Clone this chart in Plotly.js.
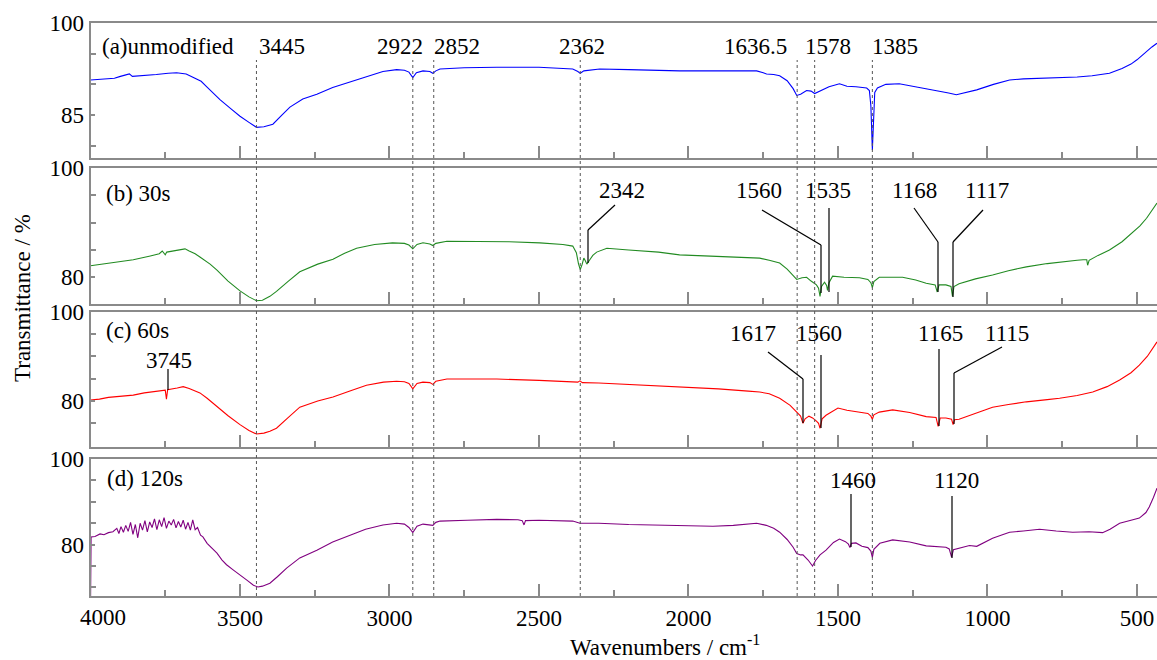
<!DOCTYPE html>
<html>
<head>
<meta charset="utf-8">
<script src="https://cdn.plot.ly/plotly-3.0.1.min.js"></script>
<style>
html,body{margin:0;padding:0;background:#fff;font-family:'Liberation Serif';}
#chart{width:1157px;height:660px;}
</style>
</head>
<body>
<div id="chart"></div>
<script>
// ---- data: [wavenumber (cm-1), transmittance (%)] ----
const specA = [
[4000,90.7],[3960,90.9],[3920,91.0],[3900,91.3],[3870,91.7],[3860,91.3],[3820,91.4],[3780,91.6],
[3740,91.8],[3712,91.9],[3680,91.7],[3657,91.2],[3630,90.5],[3611,89.6],[3590,88.6],[3567,87.5],
[3530,86.0],[3500,84.8],[3470,83.8],[3445,83.0],[3420,83.1],[3390,83.5],[3360,85.0],[3333,86.3],
[3290,87.6],[3243,88.4],[3190,89.5],[3133,90.4],[3080,91.3],[3022,92.1],[2976,92.4],[2950,92.3],
[2935,92.0],[2922,91.1],[2910,91.9],[2888,92.2],[2865,92.1],[2855,91.8],[2845,92.2],[2831,92.5],
[2750,92.7],[2641,92.8],[2500,92.8],[2420,92.6],[2387,92.5],[2370,92.1],[2362,91.8],[2350,92.2],
[2297,92.5],[2200,92.4],[2100,92.3],[2030,92.2],[1900,92.2],[1800,92.2],[1772,92.2],[1750,91.9],
[1739,91.7],[1715,91.6],[1695,91.4],[1670,90.6],[1650,89.3],[1638,88.2],[1625,88.4],[1605,89.0],
[1590,88.9],[1578,88.5],[1560,88.9],[1530,89.6],[1495,90.1],[1470,89.7],[1440,89.6],[1404,89.4],
[1395,89.0],[1390,86.5],[1385,79.3],[1381,85.5],[1377,88.7],[1368,89.4],[1340,90.0],[1295,90.1],
[1260,89.8],[1227,89.5],[1180,89.0],[1130,88.6],[1104,88.3],[1080,88.6],[1036,89.1],[980,90.0],
[926,90.7],[880,90.9],[820,91.0],[759,91.0],[700,91.2],[650,91.4],[592,91.8],[550,92.6],
[520,93.3],[500,94.0],[470,95.3],[450,96.1],[433,96.7]];

const specB = [
[4000,82.1],[3950,82.5],[3900,82.8],[3857,83.2],[3800,83.9],[3770,84.3],[3760,84.8],[3750,84.1],
[3745,84.6],[3710,84.9],[3684,85.2],[3670,84.8],[3650,84.3],[3634,83.7],[3600,82.4],[3577,81.3],
[3540,79.3],[3500,77.5],[3470,76.4],[3445,75.7],[3425,75.8],[3400,76.5],[3378,77.4],[3340,79.2],
[3300,81.0],[3240,82.4],[3189,83.3],[3150,84.4],[3110,85.3],[3050,86.0],[2990,86.3],[2950,86.2],
[2935,85.9],[2922,85.2],[2908,86.0],[2888,86.3],[2865,86.1],[2855,85.8],[2845,86.2],[2808,86.6],
[2700,86.6],[2600,86.5],[2497,86.3],[2420,86.0],[2387,85.7],[2375,84.5],[2368,82.5],[2362,81.4],
[2356,82.3],[2350,83.5],[2345,83.0],[2340,82.4],[2330,83.2],[2320,84.0],[2307,84.6],[2273,85.3],
[2200,85.0],[2100,84.6],[2030,84.1],[1900,83.8],[1800,83.6],[1762,83.5],[1730,83.1],[1695,82.6],
[1670,81.5],[1650,80.2],[1638,79.6],[1620,79.9],[1605,80.0],[1590,79.3],[1572,78.6],[1565,78.0],
[1560,76.5],[1555,78.3],[1545,79.1],[1538,78.5],[1535,77.6],[1530,79.0],[1518,80.2],[1480,80.0],
[1428,79.9],[1400,79.6],[1390,79.0],[1385,78.1],[1380,79.2],[1362,80.0],[1284,80.0],[1240,79.5],
[1205,78.9],[1175,78.6],[1168,77.3],[1162,78.6],[1139,78.6],[1122,78.3],[1117,76.5],[1112,78.3],
[1095,78.8],[1040,79.7],[983,80.4],[930,81.2],[870,81.9],[800,82.5],[759,82.8],[700,83.1],
[680,83.2],[668,83.2],[665,82.2],[660,83.1],[630,84.0],[592,85.0],[550,86.5],[515,88.1],
[490,89.4],[468,90.8],[450,92.2],[433,93.6]];

const specC = [
[4000,80.2],[3970,80.4],[3940,80.8],[3900,81.0],[3857,81.3],[3820,81.8],[3780,82.1],[3750,82.4],
[3746,80.4],[3742,82.5],[3710,82.9],[3690,83.2],[3670,82.8],[3650,82.3],[3634,81.8],[3610,80.6],
[3577,78.7],[3540,76.7],[3500,74.7],[3470,73.4],[3445,72.6],[3420,72.8],[3400,73.2],[3378,73.9],
[3340,76.2],[3300,78.6],[3240,80.0],[3189,80.9],[3130,82.3],[3077,83.5],[3020,84.2],[2976,84.4],
[2950,84.3],[2935,83.9],[2922,82.7],[2908,83.9],[2888,84.2],[2865,84.1],[2855,83.7],[2845,84.4],
[2808,84.9],[2700,85.0],[2641,84.9],[2500,84.6],[2400,84.3],[2370,84.2],[2363,84.5],[2355,84.1],
[2300,84.0],[2200,83.7],[2100,83.3],[2030,83.1],[1900,82.7],[1800,82.2],[1762,82.0],[1730,81.6],
[1695,80.6],[1660,79.0],[1638,77.5],[1625,76.6],[1617,75.0],[1610,76.0],[1597,76.6],[1585,76.2],
[1572,75.5],[1565,75.0],[1560,73.9],[1553,76.0],[1540,76.8],[1500,78.4],[1470,77.9],[1428,77.5],
[1400,77.2],[1390,76.6],[1385,75.9],[1380,76.9],[1362,77.5],[1317,78.0],[1260,77.4],[1205,76.5],
[1172,76.3],[1165,74.3],[1158,76.2],[1139,76.2],[1120,75.9],[1115,74.7],[1110,75.8],[1095,75.9],
[1040,77.3],[983,78.6],[930,79.2],[870,79.8],[800,80.3],[759,80.6],[700,81.2],[648,82.0],
[600,83.2],[558,84.7],[520,86.3],[492,88.0],[465,90.0],[450,91.5],[433,93.2]];

const specD = [
[4000,65.0],[3998,81.8],[3985,81.9],[3968,82.5],[3955,82.3],[3940,82.8],[3925,83.0],[3912,83.8],
[3905,82.6],[3898,84.2],[3890,82.9],[3882,84.5],[3874,83.1],[3866,85.2],[3858,82.4],[3850,84.7],
[3842,81.6],[3834,85.0],[3826,83.4],[3818,85.6],[3810,83.0],[3802,85.3],[3794,84.0],[3786,86.0],
[3778,83.5],[3770,85.8],[3762,84.2],[3754,86.3],[3746,83.8],[3738,85.5],[3730,84.6],[3722,85.9],
[3714,83.9],[3706,85.4],[3698,84.1],[3690,85.7],[3682,83.6],[3674,85.2],[3666,83.4],[3658,85.8],
[3650,83.5],[3642,84.0],[3632,82.2],[3624,81.8],[3610,80.3],[3600,79.6],[3590,79.0],[3577,78.0],
[3560,76.4],[3545,75.3],[3523,74.1],[3500,72.8],[3477,71.7],[3455,70.5],[3440,70.1],[3425,70.3],
[3400,71.0],[3375,72.5],[3344,74.5],[3300,76.9],[3243,78.7],[3190,80.6],[3133,82.2],[3080,83.6],
[3022,84.6],[2976,85.0],[2950,84.8],[2935,84.0],[2922,82.8],[2908,84.3],[2888,84.8],[2865,84.7],
[2855,84.5],[2845,85.2],[2831,85.5],[2740,85.7],[2641,85.9],[2570,85.8],[2556,85.6],[2550,84.6],
[2545,85.6],[2500,85.7],[2420,85.6],[2387,85.5],[2363,85.0],[2300,85.0],[2200,84.7],[2139,84.6],
[2000,84.4],[1918,84.3],[1850,84.5],[1772,85.0],[1740,84.5],[1715,83.8],[1695,82.9],[1670,81.2],
[1650,79.4],[1638,77.9],[1625,77.6],[1617,77.6],[1600,76.4],[1590,75.6],[1585,75.0],[1575,76.3],
[1560,77.6],[1540,78.7],[1515,80.5],[1495,81.3],[1475,80.7],[1465,80.1],[1460,79.3],[1455,80.3],
[1440,80.4],[1420,79.6],[1400,79.3],[1390,78.5],[1385,77.0],[1380,78.9],[1360,80.3],[1317,81.1],
[1260,80.6],[1205,79.7],[1160,79.5],[1139,79.4],[1128,79.0],[1120,77.1],[1114,78.8],[1095,79.2],
[1060,79.8],[1036,79.6],[1010,80.5],[983,81.5],[950,82.3],[926,82.9],[880,83.2],[826,83.6],
[770,83.2],[715,82.9],[660,83.0],[615,82.8],[590,83.6],[558,85.0],[520,85.7],[492,86.2],
[470,87.5],[459,88.8],[445,91.0],[433,93.2]];

const panelNames = ['(a)unmodified', '(b) 30s', '(c) 60s', '(d) 120s'];
const refLines = [3445, 2922, 2852, 2362, 1636.5, 1578, 1385];
const refLabels = ['3445', '2922', '2852', '2362', '1636.5', '1578', '1385'];
const peaksB = ['2342', '1560', '1535', '1168', '1117'];
const peaksC = ['3745', '1617', '1560', '1165', '1115'];
const peaksD = ['1460', '1120'];
const xTickVals = [3500, 3000, 2500, 2000, 1500, 1000, 500];
const xMinorVals = [3750, 3250, 2750, 2250, 1750, 1250, 750];
const yLabelA = [100, 85], yMinorA = [95, 90, 80];
const yLabelB = [100, 80], yMinorB = [95, 90, 85];
const yLabelC = [100, 80], yMinorC = [95, 90, 85, 75];
const yLabelD = [100, 80], yMinorD = [95, 90, 85, 75, 70];

// ---- layout helpers ----
const W = 1157, H = 660;
const PX0 = 90.5;
const XR = [4000, 433];
const pxPerUnit = (W - PX0) / (XR[0] - XR[1]);
const px = x => x / W;
const py = y => 1 - y / H;
const toWn = p => XR[0] - (p - PX0) / pxPerUnit;
const FONT = 'Liberation Serif';
const AX = '#8a8a8a';

const colors = ['#0000ff', '#228b22', '#ff0000', '#800080'];
const specs = [specA, specB, specC, specD];
const traces = specs.map((s, i) => ({
  x: s.map(p => p[0]), y: s.map(p => p[1]),
  type: 'scatter', mode: 'lines',
  line: {color: colors[i], width: 1.1},
  xaxis: i === 0 ? 'x' : 'x' + (i + 1),
  yaxis: i === 0 ? 'y' : 'y' + (i + 1),
  hoverinfo: 'skip', showlegend: false
}));

const yDomPx = [[158, 23], [304, 168], [447, 311.5], [596, 459]];
const yRanges = [[78, 100], [75.1, 100], [69.7, 100], [68, 100]];
const yTicks = [[yLabelA, yMinorA], [yLabelB, yMinorB], [yLabelC, yMinorC], [yLabelD, yMinorD]];

const layout = {
  width: W, height: H,
  margin: {l: 0, r: 0, t: 0, b: 0},
  paper_bgcolor: '#fff', plot_bgcolor: '#fff',
  font: {family: FONT, size: 23, color: '#000'},
  showlegend: false,
  annotations: [], shapes: []
};

for (let i = 0; i < 4; i++) {
  const xa = i === 0 ? 'xaxis' : 'xaxis' + (i + 1);
  const ya = i === 0 ? 'yaxis' : 'yaxis' + (i + 1);
  layout[xa] = {
    domain: [PX0 / W, 1], range: XR, anchor: i === 0 ? 'y' : 'y' + (i + 1),
    showgrid: false, zeroline: false, showline: true, mirror: true,
    linecolor: AX, linewidth: 2,
    tickmode: 'array', tickvals: xTickVals, ticks: 'inside', ticklen: 12,
    tickwidth: 2, tickcolor: AX,
    minor: {tickmode: 'array', tickvals: xMinorVals, ticks: 'inside', ticklen: 6, tickwidth: 2, tickcolor: AX},
    showticklabels: i === 3,
    tickfont: {family: FONT, size: 23, color: '#000'}
  };
  layout[ya] = {
    domain: [py(yDomPx[i][0]), py(yDomPx[i][1])], range: yRanges[i],
    anchor: i === 0 ? 'x' : 'x' + (i + 1),
    showgrid: false, zeroline: false, showline: true, mirror: false,
    linecolor: AX, linewidth: 2,
    tickmode: 'array', tickvals: yTicks[i][0],
    ticks: 'inside', ticklen: 4, tickwidth: 2, tickcolor: AX,
    minor: {tickmode: 'array', tickvals: yTicks[i][1], ticks: 'inside', ticklen: 5, tickwidth: 2, tickcolor: AX},
    tickfont: {family: FONT, size: 23, color: '#000'}
  };
}

function label(text, xpx, ypx, anchor) {
  layout.annotations.push({
    text: text, xref: 'paper', yref: 'paper', x: px(xpx), y: py(ypx),
    xanchor: anchor || 'center', yanchor: 'middle', showarrow: false,
    font: {family: FONT, size: 23, color: '#000'}
  });
}

label(panelNames[0], 100, 46, 'left');
label(panelNames[1], 104, 193, 'left');
label(panelNames[2], 104, 330, 'left');
label(panelNames[3], 105, 478, 'left');

const refLabelPx = [282, 400, 457, 582, 755, 828, 895];
refLabels.forEach((t, k) => label(t, refLabelPx[k], 46));

refLines.forEach(wn => layout.shapes.push({
  type: 'line', xref: 'x', yref: 'paper', x0: wn, x1: wn, y0: py(596), y1: py(60),
  line: {color: '#555', width: 1, dash: 'dot'}
}));

const peakLabelPxB = [[622, 191], [759, 191], [828, 191], [914, 191], [987, 191]];
const peakLabelPxC = [[169, 360], [753, 333], [819, 333], [940, 333], [1007, 333]];
const peakLabelPxD = [[853, 480], [956, 480]];
peaksB.forEach((t, k) => label(t, peakLabelPxB[k][0], peakLabelPxB[k][1]));
peaksC.forEach((t, k) => label(t, peakLabelPxC[k][0], peakLabelPxC[k][1]));
peaksD.forEach((t, k) => label(t, peakLabelPxD[k][0], peakLabelPxD[k][1]));

const leaders = [
  [588, 263, 588, 230], [588, 230, 615, 205],
  [821, 293, 821, 245], [821, 245, 762, 210],
  [829, 292, 829, 208],
  [938, 292, 938, 242], [938, 242, 914, 208],
  [953, 297, 953, 242], [953, 242, 983, 210],
  [168, 390, 168, 369],
  [803, 423, 803, 379], [803, 379, 768, 352],
  [821, 428, 821, 355],
  [939, 426, 939, 349],
  [954, 424, 954, 373], [954, 373, 1002, 347],
  [851, 547, 851, 494],
  [952, 558, 952, 496]
];
leaders.forEach(s => layout.shapes.push({
  type: 'line', xref: 'x', yref: 'paper',
  x0: toWn(s[0]), y0: py(s[1]), x1: toWn(s[2]), y1: py(s[3]),
  line: {color: '#000', width: 1.2}
}));

label('4000', 103, 617);
label('Wavenumbers / cm<sup>-1</sup>', 665, 645);
layout.annotations.push({
  text: 'Transmittance / %', xref: 'paper', yref: 'paper', x: px(22), y: py(298),
  xanchor: 'center', yanchor: 'middle', textangle: -90, showarrow: false,
  font: {family: FONT, size: 23, color: '#000'}
});

Plotly.newPlot('chart', traces, layout, {displayModeBar: false, staticPlot: true});
</script>
</body>
</html>
